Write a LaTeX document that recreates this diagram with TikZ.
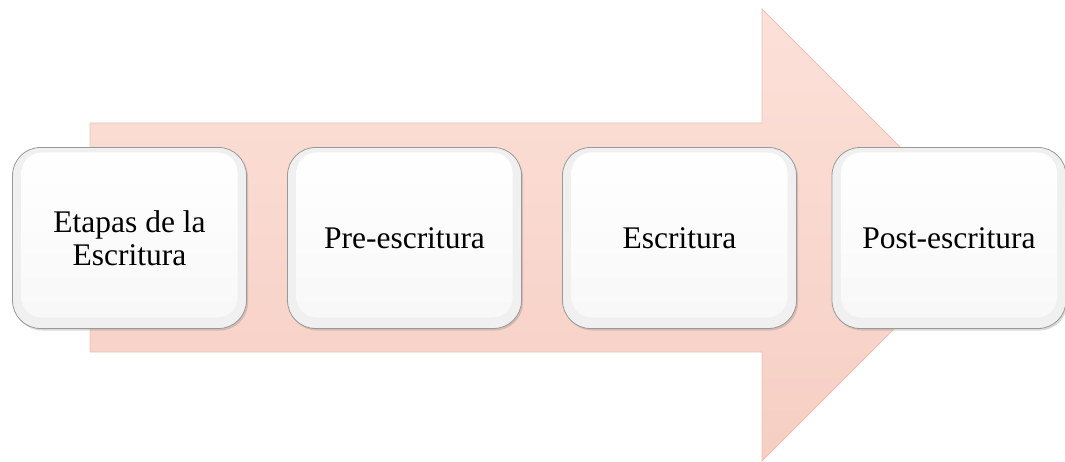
\documentclass[tikz,border=0pt]{standalone}
\usepackage{fontspec}
\setmainfont{Liberation Serif}
\usepackage{tikz}
\usetikzlibrary{shadows}
\definecolor{arrowtop}{HTML}{FCE1D9}
\definecolor{arrowbot}{HTML}{F6CEC3}
\definecolor{arrowedge}{HTML}{EDC2B6}
\tikzset{
  bigarrow/.style={draw=arrowedge, line width=0.8pt, top color=arrowtop, bottom color=arrowbot},
  stage/.style={draw=gray!80, line width=0.8pt, rounded corners=28pt, fill=gray!12,
    minimum width=234pt, minimum height=181pt, align=center, inner sep=4pt,
    font=\fontsize{31.5}{33}\selectfont,
    drop shadow={shadow xshift=1.5pt, shadow yshift=-2pt, opacity=0.3},
    path picture={\shade[top color=white, bottom color=gray!6, rounded corners=20pt]
      ([xshift=9pt,yshift=-5pt]path picture bounding box.north west) rectangle
      ([xshift=-9pt,yshift=11pt]path picture bounding box.south east);}},
}
\begin{document}
\begin{tikzpicture}[x=1pt,y=-1pt]
  \useasboundingbox (0,0) rectangle (1065,462);

  % Big arrow behind
  \draw[bigarrow] (90,123) -- (762,123) -- (762,9) -- (988,235) -- (762,461)
    -- (762,352) -- (90,352) -- cycle;

  % Stages
  \node[stage] (etapas) at (129.5,238) {Etapas de la\\Escritura};
  \node[stage] (pre)    at (404.5,238) {Pre-escritura};
  \node[stage] (escr)   at (679.5,238) {Escritura};
  \node[stage] (post)   at (949,238)   {Post-escritura};
\end{tikzpicture}
\end{document}
